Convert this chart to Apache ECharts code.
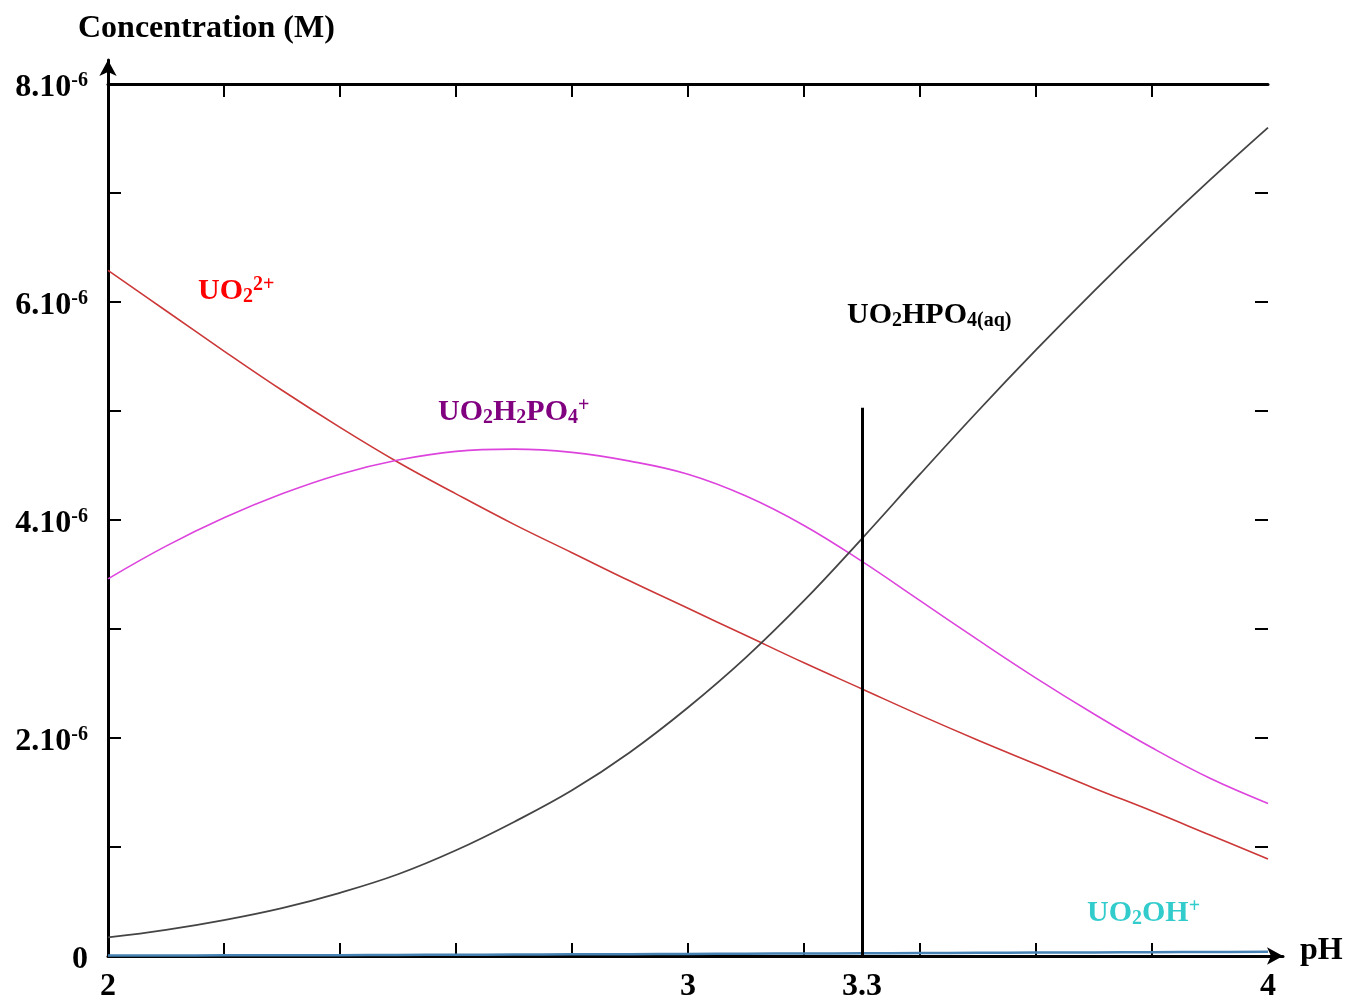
<!DOCTYPE html>
<html>
<head>
<meta charset="utf-8">
<title>Uranyl phosphate speciation</title>
<script src="https://cdn.jsdelivr.net/npm/echarts@6/dist/echarts.min.js"></script>
<style>
  html, body { margin: 0; padding: 0; background: #fff; }
  #chart { width: 1346px; height: 996px; }
</style>
</head>
<body>
<div id="chart"></div>
<script>
// pH grid (x) and concentrations, in units of 1e-6 M
const ph = [2.0, 2.1, 2.2, 2.3, 2.4, 2.5, 2.6, 2.7, 2.8, 2.9, 3.0,
            3.1, 3.2, 3.3, 3.4, 3.5, 3.6, 3.7, 3.8, 3.9, 4.0];
const uo2 = [6.29, 5.92, 5.55, 5.19, 4.85, 4.53, 4.24, 3.96, 3.70, 3.44, 3.19,
             2.94, 2.69, 2.45, 2.21, 1.98, 1.76, 1.54, 1.33, 1.11, 0.89];
const uo2h2po4 = [3.46, 3.76, 4.02, 4.24, 4.42, 4.55, 4.63, 4.65, 4.62, 4.54, 4.42,
                  4.22, 3.95, 3.62, 3.26, 2.90, 2.55, 2.22, 1.91, 1.63, 1.40];
const uo2hpo4 = [0.17, 0.24, 0.33, 0.44, 0.58, 0.75, 0.97, 1.23, 1.52, 1.87, 2.28,
                 2.74, 3.26, 3.83, 4.42, 5.00, 5.56, 6.10, 6.62, 7.12, 7.60];
const uo2oh = [0.004, 0.005, 0.006, 0.007, 0.008, 0.010, 0.011, 0.013, 0.015, 0.017, 0.019,
               0.021, 0.023, 0.025, 0.027, 0.029, 0.031, 0.033, 0.035, 0.037, 0.039];

const xTickValues = [2.2, 2.4, 2.6, 2.8, 3.0, 3.2, 3.4, 3.6, 3.8];
const xLabelValues = [2, 3, 3.3, 4];
const yLabelValues = [0, 2, 4, 6, 8];
const markerPh = 3.3;
const markerTop = 5.03;

const FONT = "'Liberation Serif', 'Times New Roman', serif";

const pairs = (ys) => ph.map((x, i) => [x, ys[i]]);

// rich styles for chemical formulas (zrender styles -> fill)
const formulaRich = (color) => ({
  b: { fontFamily: FONT, fontWeight: 'bold', fontSize: 30, lineHeight: 32, fill: color },
  s: { fontFamily: FONT, fontWeight: 'bold', fontSize: 20, lineHeight: 12, verticalAlign: 'bottom', fill: color },
  p: { fontFamily: FONT, fontWeight: 'bold', fontSize: 20, lineHeight: 12, verticalAlign: 'top', fill: color }
});

const formulaText = (text, color, x, y) => ({
  type: 'text',
  x: x,
  y: y,
  style: { text: text, rich: formulaRich(color), fill: color, align: 'left', verticalAlign: 'top' }
});

const line = (name, ys, color, width) => ({
  name: name,
  type: 'line',
  xAxisIndex: 0,
  yAxisIndex: 0,
  data: pairs(ys),
  smooth: 0.4,
  showSymbol: false,
  lineStyle: { color: color, width: width },
  silent: true
});

const chart = echarts.init(document.getElementById('chart'));

const option = {
  animation: false,
  backgroundColor: '#fff',
  grid: [
    { left: 108, right: 78, top: 84, bottom: 40, outerBoundsMode: 'none', containLabel: false },
    { left: 108, right: 63, top: 60, bottom: 40, outerBoundsMode: 'none', containLabel: false }
  ],
  xAxis: [
    {
      gridIndex: 0, type: 'value', min: 2, max: 4, interval: 0.2,
      axisLine: { show: false },
      splitLine: { show: false },
      axisTick: { inside: true, length: 13, lineStyle: { color: '#000', width: 2 }, customValues: xTickValues },
      axisLabel: {
        customValues: xLabelValues,
        margin: 15,
        fontFamily: FONT, fontWeight: 'bold', fontSize: 32, lineHeight: 32, color: '#000',
        formatter: (v) => String(v)
      }
    },
    {
      gridIndex: 0, type: 'value', position: 'top', min: 2, max: 4, interval: 0.2,
      axisLine: { show: true, onZero: false, lineStyle: { color: '#000', width: 3 } },
      splitLine: { show: false },
      axisTick: { inside: true, length: 13, lineStyle: { color: '#000', width: 2 }, customValues: xTickValues },
      axisLabel: { show: false }
    },
    {
      gridIndex: 1, type: 'value', min: 0, max: 1,
      axisLine: { show: true, onZero: false, symbol: ['none', 'arrow'], symbolSize: [13, 16],
                  lineStyle: { color: '#000', width: 3 } },
      splitLine: { show: false }, axisTick: { show: false }, axisLabel: { show: false }
    }
  ],
  yAxis: [
    {
      gridIndex: 0, type: 'value', min: 0, max: 8, interval: 1,
      axisLine: { show: false },
      splitLine: { show: false },
      axisTick: { inside: true, length: 13, lineStyle: { color: '#000', width: 2 } },
      axisLabel: {
        customValues: yLabelValues,
        margin: 20,
        padding: [7, 0, 0, 0],
        formatter: (v) => v === 0 ? '{m|0}' : '{m|' + v + '.10}{e|-6}',
        rich: {
          m: { fontFamily: FONT, fontWeight: 'bold', fontSize: 32, lineHeight: 34, color: '#000' },
          e: { fontFamily: FONT, fontWeight: 'bold', fontSize: 20, lineHeight: 26, verticalAlign: 'top', color: '#000' }
        }
      }
    },
    {
      gridIndex: 0, type: 'value', position: 'right', min: 0, max: 8, interval: 1,
      axisLine: { show: false, onZero: false },
      splitLine: { show: false },
      axisTick: { show: true, inside: true, length: 13, lineStyle: { color: '#000', width: 2 } },
      axisLabel: { show: false }
    },
    {
      gridIndex: 1, type: 'value', min: 0, max: 1,
      axisLine: { show: true, onZero: false, symbol: ['none', 'arrow'], symbolSize: [13, 16],
                  lineStyle: { color: '#000', width: 3 } },
      splitLine: { show: false }, axisTick: { show: false }, axisLabel: { show: false }
    }
  ],
  series: [
    line('UO2OH+', uo2oh, '#4682b4', 2.5),
    line('UO2 2+', uo2, '#cc3838', 1.6),
    line('UO2H2PO4+', uo2h2po4, '#dd44dd', 1.6),
    Object.assign(line('UO2HPO4(aq)', uo2hpo4, '#444444', 1.8), {
      markLine: {
        silent: true,
        symbol: 'none',
        label: { show: false },
        lineStyle: { color: '#000', width: 3, type: 'solid' },
        data: [[{ coord: [markerPh, 0] }, { coord: [markerPh, markerTop] }]]
      }
    })
  ],
  graphic: [
    {
      type: 'text', x: 78, y: 13,
      style: { text: 'Concentration (M)', fontFamily: FONT, fontWeight: 'bold', fontSize: 32, fill: '#000',
               align: 'left', verticalAlign: 'top' }
    },
    {
      type: 'text', x: 1300, y: 935,
      style: { text: 'pH', fontFamily: FONT, fontWeight: 'bold', fontSize: 32, fill: '#000',
               align: 'left', verticalAlign: 'top' }
    },
    formulaText('{b|UO}{s|2}{p|2+}', '#ff0000', 198, 275),
    formulaText('{b|UO}{s|2}{b|H}{s|2}{b|PO}{s|4}{p|+}', '#800080', 438, 396),
    formulaText('{b|UO}{s|2}{b|HPO}{s|4(aq)}', '#000000', 847, 299),
    formulaText('{b|UO}{s|2}{b|OH}{p|+}', '#33cccc', 1087, 897)
  ]
};

chart.setOption(option);
</script>
</body>
</html>
